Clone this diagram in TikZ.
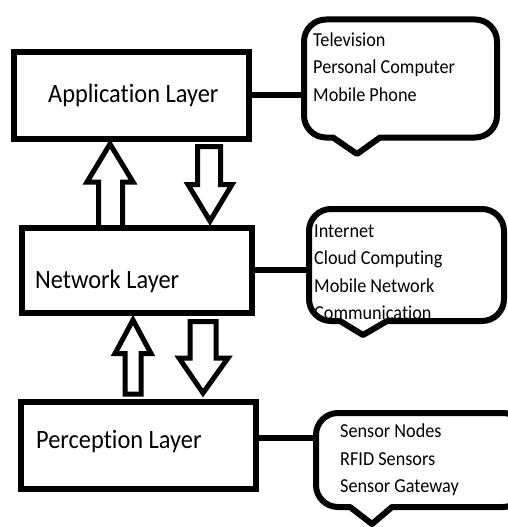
\documentclass[tikz,border=0pt]{standalone}
\usepackage{fontspec}
\setmainfont[Ligatures=NoCommon,FakeStretch=0.92]{Carlito}
\usepackage{tikz}
\usetikzlibrary{positioning,calc}

\begin{document}
\begin{tikzpicture}[x=1pt,y=-1pt,
    layer/.style={draw,line width=5.5pt,inner sep=0pt},
    layertext/.style={anchor=base west,inner sep=0pt,font=\fontsize{26.5}{30}\selectfont},
    items/.style={anchor=north west,align=left,inner sep=0pt,font=\fontsize{19.8}{27.3}\selectfont},
    bubble/.style={line width=6pt,line join=round},
    link/.style={line width=5.5pt,line cap=round},
    updown/.style={line width=5pt,line join=miter}]
  \clip (0,0) rectangle (508,527);
  % layer boxes
  \node[layer,minimum width=235pt,minimum height=87pt](app) at (131.5,95.5) {};
  \node[layer,minimum width=230pt,minimum height=85pt](net) at (137,270.5) {};
  \node[layer,minimum width=235pt,minimum height=87pt](per) at (138.5,445.5) {};
  \node[layertext](apptext) at (48,102.7) {Application Layer};
  \node[layertext](nettext) at (35,288.3) {Network Layer};
  \node[layertext](pertext) at (36,448.3) {Perception Layer};
  % block arrows between the layers
  \draw[updown] (110,144) -- (133,182) -- (122.5,182) -- (122.5,228) -- (98.5,228) -- (98.5,182) -- (87,182) -- cycle;
  \draw[updown] (197.5,146.5) -- (220.5,146.5) -- (220.5,184.5) -- (232,184.5) -- (210,221) -- (188,184.5) -- (197.5,184.5) -- cycle;
  \draw[updown] (133,320) -- (151,353.5) -- (141,353.5) -- (141,394) -- (125,394) -- (125,353.5) -- (115,353.5) -- cycle;
  \draw[updown] (190,321.5) -- (216,321.5) -- (216,358) -- (228,358) -- (203,393) -- (179,358) -- (190,358) -- cycle;
  % callouts
  \draw[bubble] (357,154) -- (333,137.5) [rounded corners=22pt] -- (304,137.5) -- (304,19.5) -- (497,19.5) -- (497,137.5) [sharp corners] -- (380,137.5) -- cycle;
  \draw[bubble] (363,335) -- (340,321) [rounded corners=22pt] -- (309,321) -- (309,209) -- (504,209) -- (504,321) [sharp corners] -- (387,321) -- cycle;
  \draw[bubble] (372,524) -- (350,507) [rounded corners=22pt] -- (316,507) -- (316,413) -- (525,413) -- (525,507) [sharp corners] -- (392,507) -- cycle;
  \node[items](devices) at (313,32.5) {Television\\Personal Computer\\Mobile Phone};
  \node[items](links) at (314,224.5) {Internet\\Cloud Computing\\Mobile Network\\Communication};
  \node[items](sensors) at (340,424) {Sensor Nodes\\RFID Sensors\\Sensor Gateway};
  % connectors
  \coordinate (b1) at (304,95);
  \coordinate (b2) at (309,270);
  \coordinate (b3) at (316,438);
  \draw[link] (app.east |- b1) -- (b1);
  \draw[link] (net.east |- b2) -- (b2);
  \draw[link] (per.east |- b3) -- (b3);
\end{tikzpicture}
\end{document}
